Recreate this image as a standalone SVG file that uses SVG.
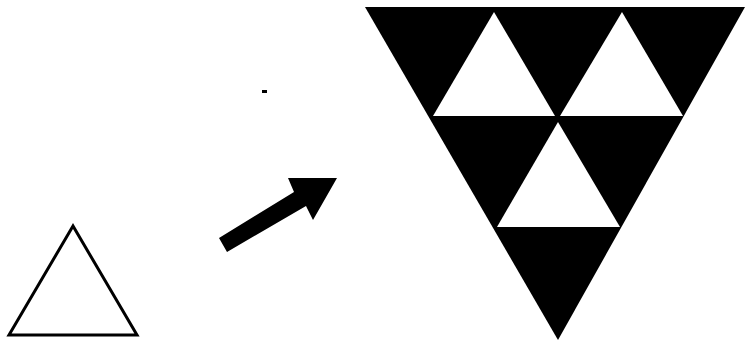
<svg xmlns="http://www.w3.org/2000/svg" width="746" height="343" viewBox="0 0 746 343">
<style>
.blk{fill:#000;stroke:none}
.wht{fill:#fff;stroke:none}
.out{fill:none;stroke:#000;stroke-width:3;stroke-linejoin:miter}
</style>
<rect width="746" height="343" fill="#fff"/>
<g id="small-triangle">
<polygon class="out" points="73,226 9,335 137,335"/>
</g>
<g id="connectors">
<polygon class="blk" points="219,238 294,192 288,178 337,178 313,220 306,206 227,252"/>
</g>
<g id="big-triangle">
<polygon class="blk" points="365,7 745,7 558,340"/>
<polygon class="wht" points="494,12 433,116 555,116"/>
<polygon class="wht" points="622,12 560,116 683,116"/>
<polygon class="wht" points="558,122 497,227 620,227"/>
</g>
<rect class="blk" x="262" y="90" width="5" height="3"/>
</svg>
